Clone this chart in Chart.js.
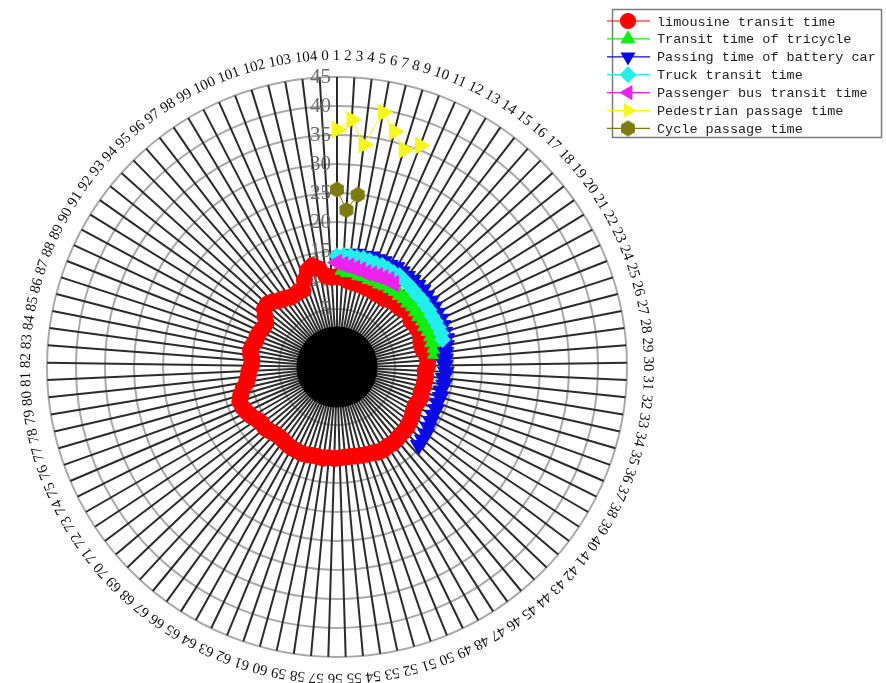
<!DOCTYPE html>
<html>
<head>
<meta charset="utf-8">
<script src="https://cdn.jsdelivr.net/npm/chart.js@4.4.1/dist/chart.umd.min.js"></script>
<style>
  html, body { margin: 0; padding: 0; background: #fff; }
  #wrap { width: 886px; height: 683px; position: relative; }
</style>
</head>
<body>
<div id="wrap"><canvas id="polarChart"></canvas></div>
<script>
// spokes 0..104, radial ticks every 5
const angleLabels = Array.from({ length: 105 }, (_, i) => String(i));
const radialTicks = [0, 5, 10, 15, 20, 25, 30, 35, 40, 45];
const coreValue = 2;

const limousineTime = [
  10.6, 10.4, 10.0, 9.8, 9.7, 9.7, 9.5, 9.6, 9.3, 9.4,
  9.3, 9.6, 10.2, 9.8, 9.9, 10.6, 10.4, 10.0, 10.3, 10.3,
  10.8, 10.2, 10.0, 10.1, 10.5, 10.7, 10.6, 10.2, 10.4, 10.3,
  10.3, 10.1, 10.4, 10.2, 10.0, 10.2, 10.5, 10.7, 10.9, 11.0,
  11.0, 11.2, 11.3, 11.2, 11.4, 11.3, 11.0, 10.9, 10.8, 10.7,
  10.6, 10.6, 10.7, 10.8, 10.7, 10.9, 10.8, 10.8, 11.0, 11.1,
  11.0, 11.0, 10.9, 10.7, 10.6, 10.7, 11.0, 11.3, 11.2, 11.5,
  12.0, 12.4, 12.7, 12.8, 12.3, 11.6, 10.8, 10.4, 10.2, 9.8,
  9.7, 10.0, 10.2, 10.0, 9.7, 9.8, 9.6, 9.4, 9.4, 10.2,
  11.0, 11.2, 10.8, 10.2, 9.9, 9.5, 9.4, 9.6, 9.5, 11.0,
  12.4, 13.0, 12.2, 10.8, 10.5
];
// first spoke 1
const tricycleTime = [
  11.8, 11.5, 11.6, 11.3, 11.4, 11.2, 11.3, 11.2, 11.4, 11.5,
  11.6, 11.5, 11.7, 11.6, 11.8, 11.7, 11.7, 11.9, 11.8, 12.0,
  12.1, 12.0, 12.2, 12.1
];
// first spoke 1
const batteryCarTime = [
  14.3, 14.6, 14.8, 14.7, 14.9, 14.8, 14.9, 14.8, 15.0, 14.9,
  14.8, 14.9, 14.8, 14.9, 14.7, 14.8, 14.7, 14.6, 14.7, 14.6,
  14.5, 14.5, 14.2, 13.9, 13.7, 13.6, 13.8, 13.5, 13.7, 13.4,
  13.6, 13.4, 13.6, 13.5, 13.7, 13.9, 14.2, 14.4, 14.5
];
// first spoke 0
const truckTime = [
  14.2, 14.3, 14.3, 14.2, 14.3, 14.2, 14.1, 14.2, 14.1, 14.0,
  14.1, 13.9, 13.8, 13.7, 13.6, 13.7, 13.6, 13.7, 13.6, 13.7,
  13.8, 13.9, 13.8
];
// first spoke 0
const busTime = [13.0, 12.7, 12.5, 12.3, 12.2, 12.0, 12.1, 12.2, 12.3, 12.5, 12.4];
const pedestrianTime = [35.9, 37.7, 33.6, 39.6, 36.8, 34.2, 35.8];
const cycleTime = [25.6, 22.1, 24.9];

function onSpokes(first, values) {
  const out = new Array(angleLabels.length).fill(null);
  values.forEach((v, i) => { out[first + i] = v; });
  return out;
}

// hexagon marker
const hexMark = document.createElement('canvas');
hexMark.width = 18; hexMark.height = 18;
(() => {
  const c = hexMark.getContext('2d');
  c.fillStyle = '#7b7b10';
  c.beginPath();
  for (let k = 0; k < 6; k++) {
    const a = Math.PI / 6 + k * Math.PI / 3;
    const px = 9 + 8 * Math.cos(a), py = 9 + 8 * Math.sin(a);
    k === 0 ? c.moveTo(px, py) : c.lineTo(px, py);
  }
  c.closePath();
  c.fill();
})();

function series(label, data, color, style, rotation, radius, order) {
  return {
    label: label,
    data: data,
    borderColor: color,
    backgroundColor: color,
    pointBackgroundColor: color,
    pointBorderColor: color,
    borderWidth: 1,
    pointBorderWidth: 1,
    pointStyle: style,
    pointRotation: rotation,
    pointRadius: radius,
    fill: false,
    spanGaps: false,
    order: order
  };
}

const datasets = [
  series('limousine transit time', limousineTime, '#ff0000', 'circle', 0, 8, 7),
  series('Transit time of tricycle', onSpokes(1, tricycleTime), '#11ee11', 'triangle', 0, 9, 6),
  series('Passing time of battery car', onSpokes(1, batteryCarTime), '#0a0ae6', 'triangle', 180, 9.5, 5),
  series('Truck transit time', onSpokes(0, truckTime), '#22eeee', 'rectRot', 0, 8, 4),
  series('Passenger bus transit time', onSpokes(0, busTime), '#ee22ee', 'triangle', -90, 9.5, 3),
  series('Pedestrian passage time', onSpokes(0, pedestrianTime), '#f6f61c', 'triangle', 90, 9.5, 2),
  series('Cycle passage time', onSpokes(0, cycleTime), '#7b7b10', hexMark, 0, 8, 1)
];

const centerCore = {
  id: 'centerCore',
  beforeDatasetsDraw(chart) {
    const s = chart.scales.r;
    const ctx = chart.ctx;
    ctx.save();
    ctx.fillStyle = '#000';
    ctx.beginPath();
    ctx.arc(s.xCenter, s.yCenter, s.getDistanceFromCenterForValue(coreValue), 0, Math.PI * 2);
    ctx.fill();
    // radial tick numbers, left of spoke 0
    ctx.font = '21px "Liberation Serif"';
    ctx.fillStyle = '#6a6a6a';
    ctx.textAlign = 'right';
    ctx.textBaseline = 'middle';
    radialTicks.forEach(v => {
      if (v <= 0) return;
      ctx.fillText(String(v), s.xCenter - 6, s.yCenter - s.getDistanceFromCenterForValue(v));
    });
    ctx.restore();
  }
};

const angleText = {
  id: 'angleText',
  afterDraw(chart) {
    const s = chart.scales.r;
    const ctx = chart.ctx;
    const rad = s.drawingArea + 21;
    ctx.save();
    ctx.font = '15px "Liberation Serif"';
    ctx.fillStyle = '#111';
    ctx.textAlign = 'center';
    ctx.textBaseline = 'middle';
    // labels follow the rim, spaced by their own width
    const widths = angleLabels.map(t => ctx.measureText(t).width);
    const sumW = widths.reduce((a, b) => a + b, 0);
    const gap = (2 * Math.PI * rad - sumW) / angleLabels.length;
    let pos = 0;
    const start = -2.2 * Math.PI / 180;
    angleLabels.forEach((t, i) => {
      if (i > 0) pos += (widths[i - 1] + widths[i]) / 2 + gap;
      const a = start + pos / rad;
      ctx.save();
      ctx.translate(s.xCenter + rad * Math.sin(a), s.yCenter - rad * Math.cos(a));
      ctx.rotate(a);
      ctx.fillText(t, 0, 0);
      ctx.restore();
    });
    ctx.restore();
  }
};

const legendBox = {
  id: 'legendBox',
  afterDraw(chart) {
    const ctx = chart.ctx;
    ctx.save();
    ctx.strokeStyle = '#7a7a7a';
    ctx.lineWidth = 1.5;
    ctx.strokeRect(612.5, 9.5, 269, 128);
    ctx.font = '13.5px "Liberation Mono"';
    ctx.textAlign = 'left';
    ctx.textBaseline = 'middle';
    chart.data.datasets.forEach((ds, i) => {
      const y = 21 + i * 17.9;
      ctx.strokeStyle = ds.borderColor;
      ctx.fillStyle = ds.borderColor;
      ctx.lineWidth = 1.2;
      ctx.beginPath();
      ctx.moveTo(607, y);
      ctx.lineTo(650, y);
      ctx.stroke();
      Chart.helpers.drawPoint(ctx, {
        pointStyle: ds.pointStyle, rotation: ds.pointRotation,
        radius: 7.5, borderWidth: 1
      }, 628, y);
      ctx.fillStyle = '#222';
      ctx.fillText(ds.label, 657, y + 1);
    });
    ctx.restore();
  }
};

new Chart(document.getElementById('polarChart'), {
  type: 'radar',
  data: { labels: angleLabels, datasets: datasets },
  options: {
    responsive: true,
    maintainAspectRatio: false,
    animation: false,
    layout: { padding: { left: 47, right: 259, top: 77, bottom: 26 } },
    plugins: { legend: { display: false }, tooltip: { enabled: false } },
    scales: {
      r: {
        min: -5,
        max: 45,
        startAngle: 0,
        grid: { circular: true, color: '#a9a9a9', lineWidth: 2 },
        angleLines: { color: '#2b2b2b', lineWidth: 2 },
        pointLabels: { display: false },
        ticks: { display: false, stepSize: 5 },
        afterBuildTicks: (scale) => { scale.ticks = radialTicks.map(v => ({ value: v })); }
      }
    }
  },
  plugins: [centerCore, angleText, legendBox]
});
</script>
</body>
</html>
